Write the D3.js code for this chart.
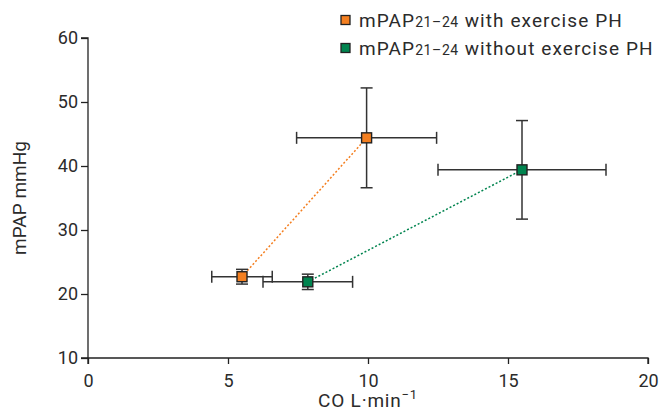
<!DOCTYPE html>
<html>
<head>
<meta charset="utf-8">
<script src="https://cdn.jsdelivr.net/npm/d3@7"></script>
<style>
  body { margin: 0; background: #fff; }
  text { font-family: Roboto, "Noto Sans", sans-serif; fill: #2b2b2b; }
</style>
</head>
<body>
<svg width="660" height="416"></svg>
<script>
var svg = d3.select('svg');

// data
var groups = ['with exercise PH', 'without exercise PH'];
var colors = ['#f47f20', '#00844f'];
var coMean = [[5.5, 9.95], [7.85, 15.5]];
var coErr = [[1.08, 2.5], [1.6, 3.0]];
var papMean = [[22.7, 44.4], [21.9, 39.4]];
var papErr = [[1.15, 7.8], [1.2, 7.7]];
var xTicks = [0, 5, 10, 15, 20];
var yTicks = [10, 20, 30, 40, 50, 60];

var x = d3.scaleLinear().domain([0, 20]).range([88, 648]);
var y = d3.scaleLinear().domain([10, 60]).range([358, 38]);

// axes
var xAxis = svg.append('g')
    .attr('transform', 'translate(0,' + y(10) + ')')
    .call(d3.axisBottom(x).tickValues(xTicks).tickSize(6).tickPadding(10));
var yAxis = svg.append('g')
    .attr('transform', 'translate(' + x(0) + ',0)')
    .call(d3.axisLeft(y).tickValues(yTicks).tickSize(7).tickPadding(3));

[xAxis, yAxis].forEach(function(a){
    a.select('.domain').attr('stroke', '#222').attr('stroke-width', 1.3);
    a.selectAll('.tick line').attr('stroke', '#222').attr('stroke-width', 1.3);
    a.selectAll('.tick text').attr('font-size', 18).style('fill', '#2b2b2b')
        .attr('font-family', 'Roboto, sans-serif');
});
// d3 adds outer ticks; redraw the domain plain
xAxis.select('.domain').attr('d', 'M' + x(0) + ',6V0H' + x(20) + 'V6');
yAxis.select('.domain').attr('d', 'M-7,' + y(60) + 'H0V' + y(10) + 'H-7');

// axis titles
var xt = svg.append('text')
    .attr('x', x(10)).attr('y', 407)
    .attr('text-anchor', 'middle')
    .attr('font-size', 19)
    .attr('letter-spacing', 0.8);
xt.append('tspan').text('CO L\u00b7min');
xt.append('tspan').attr('font-size', 13).attr('dy', -8).text('\u22121');

svg.append('text')
    .attr('transform', 'translate(26,' + y(35) + ') rotate(-90)')
    .attr('text-anchor', 'middle')
    .attr('font-size', 19)
    .text('mPAP mmHg');

// dotted connecting lines
groups.forEach(function(g, i){
    svg.append('line')
        .attr('x1', x(coMean[i][0])).attr('y1', y(papMean[i][0]))
        .attr('x2', x(coMean[i][1])).attr('y2', y(papMean[i][1]))
        .attr('stroke', colors[i])
        .attr('stroke-width', 1.5)
        .attr('stroke-dasharray', '2,2');
});

// error bars
var points = [];
groups.forEach(function(g, i){
    for (var j = 0; j < 2; j++){
        points.push({cx: coMean[i][j], sx: coErr[i][j], cy: papMean[i][j], sy: papErr[i][j], color: colors[i]});
    }
});

var bars = svg.append('g').attr('stroke', '#333').attr('stroke-width', 1.5);
var cap = 5;
points.forEach(function(d){
    var px = x(d.cx), py = y(d.cy);
    var x0 = x(d.cx - d.sx), x1 = x(d.cx + d.sx);
    var y0 = y(d.cy - d.sy), y1 = y(d.cy + d.sy);
    bars.append('line').attr('x1', x0).attr('x2', x1).attr('y1', py).attr('y2', py);
    bars.append('line').attr('x1', x0).attr('x2', x0).attr('y1', py - cap - 1).attr('y2', py + cap + 1);
    bars.append('line').attr('x1', x1).attr('x2', x1).attr('y1', py - cap - 1).attr('y2', py + cap + 1);
    bars.append('line').attr('x1', px).attr('x2', px).attr('y1', y0).attr('y2', y1);
    bars.append('line').attr('x1', px - cap - 1).attr('x2', px + cap + 1).attr('y1', y0).attr('y2', y0);
    bars.append('line').attr('x1', px - cap - 1).attr('x2', px + cap + 1).attr('y1', y1).attr('y2', y1);
});

// markers
svg.selectAll('rect.pt')
    .data(points)
    .enter()
    .append('rect')
    .attr('class', 'pt')
    .attr('x', function(d){ return x(d.cx) - 5; })
    .attr('y', function(d){ return y(d.cy) - 5; })
    .attr('width', 10)
    .attr('height', 10)
    .attr('fill', function(d){ return d.color; })
    .attr('stroke', '#222')
    .attr('stroke-width', 1.4);

// legend
var legend = svg.append('g');
groups.forEach(function(g, i){
    var ly = 20 + i * 28;
    legend.append('rect')
        .attr('x', 341).attr('y', ly - 4.5)
        .attr('width', 9).attr('height', 9)
        .attr('fill', colors[i])
        .attr('stroke', '#222').attr('stroke-width', 1.3);
    var t = legend.append('text')
        .attr('x', 359).attr('y', ly + 7)
        .attr('font-size', 19)
        .attr('letter-spacing', 1.1);
    t.append('tspan').text('mPAP');
    t.append('tspan').attr('font-size', 14).attr('letter-spacing', 0.6).text('21\u201324');
    t.append('tspan').text(' ' + g);
});
</script>
</body>
</html>
